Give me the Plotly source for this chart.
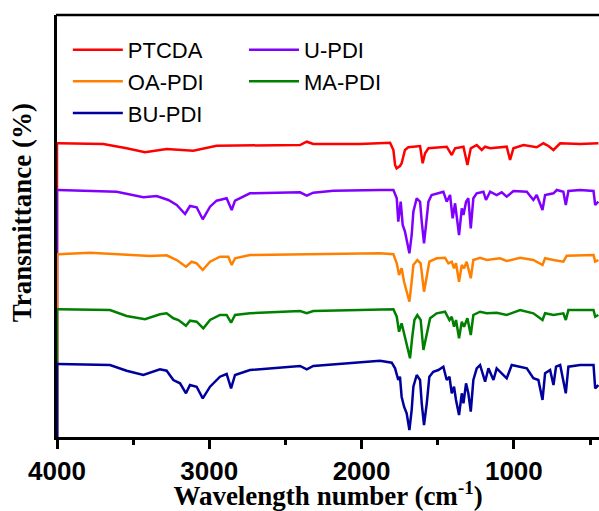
import plotly.graph_objects as go

# ---- data (wavenumber in cm^-1, transmittance in arbitrary stacked units) ----
ptcda_wn = [4000, 4000, 3991, 3696, 3543, 3422, 3280, 3105, 2952, 2404, 2360, 2317, 2010, 1879,
            1813, 1791, 1780, 1770, 1748, 1737, 1715, 1693, 1616, 1599, 1583, 1561, 1507, 1441,
            1408, 1386, 1331, 1305, 1283, 1244, 1211, 1189, 1156, 1102, 1047, 1025, 1003, 937,
            850, 806, 773, 740, 696, 565, 445]
ptcda_t = [0, 293.7, 293.7, 293, 288.7, 284.7, 288, 286.3, 291.3, 292, 295.3, 293, 293, 294.3,
           294.3, 287, 272, 268.7, 271, 273.7, 287, 289.7, 291, 273.7, 283.7, 288.7, 289.7, 290.3,
           282, 288.7, 290.3, 272, 288.7, 292, 287, 290.3, 288.7, 289.7, 290.3, 277, 288.7, 292,
           289.7, 293.7, 291, 287, 293.7, 293, 293.7]

upd_wn = [4000, 4000, 3991, 3608, 3433, 3346, 3269, 3214, 3159, 3127, 3083, 3043, 2995, 2952, 2886,
          2853, 2831, 2733, 2404, 2360, 2317, 2185, 1879,
          1791, 1769, 1759, 1743, 1730, 1715, 1686, 1671, 1660, 1638, 1616, 1605, 1590, 1577, 1561,
          1540, 1496, 1463, 1441, 1419, 1402, 1386, 1360, 1342, 1331, 1314, 1299, 1283, 1266, 1244,
          1200, 1183, 1156, 1113, 1080, 1047, 1003, 915, 872, 850, 812, 795, 740, 718, 675, 659,
          642, 565, 477, 466, 445]
upd_t = [0, 247, 247, 245.3, 239.7, 241, 237, 232, 223, 231, 229.7, 217.7, 230.3, 236.3, 238.7,
         227, 236.3, 243.7, 244.7, 241.3, 244.3, 246.3, 247,
         247, 238.7, 215.3, 235.3, 212, 205.3, 183.7, 202, 225.3, 238.7, 235.3, 215.3, 193.7, 212, 235.3,
         242, 243.7, 245.3, 235.3, 242, 218.7, 233.7, 202, 228.7, 222, 235.3, 238.7, 208.7, 238.7, 243.7,
         245.3, 237, 245.3, 242, 244.7, 240.3, 246, 245.3, 237, 242, 227, 242, 243.7, 247, 245.3, 232,
         246, 247, 246, 232, 235.3]

oa_wn = [4000, 4000, 3991, 3783, 3389, 3280, 3214, 3153, 3116, 3083, 3043, 2995, 2930, 2875, 2853,
         2831, 2733, 1879,
         1791, 1769, 1754, 1737, 1721, 1686, 1671, 1660, 1634, 1612, 1590, 1572, 1555, 1507, 1452,
         1430, 1408, 1393, 1380, 1360, 1342, 1327, 1310, 1283, 1266, 1222, 1178, 1091, 1047, 959,
         872, 812, 795, 740, 675, 653, 477, 466, 445]
oa_t = [0, 182.7, 182.7, 184.3, 181, 181.7, 177, 170.3, 175.3, 173.7, 167, 175.3, 180.3, 180.3, 172,
        178.7, 182, 183.7,
        182.7, 173.7, 162, 168.7, 155.3, 135.3, 155.3, 172, 177, 173.7, 145.3, 162, 175.3, 178.7, 179.3,
        173.7, 175.3, 168.7, 173.7, 155.3, 172, 168.7, 175.3, 158.7, 177, 179.3, 177, 178.7, 176, 179.3,
        177, 172, 178.7, 177, 175.3, 181.3, 182, 175.3, 177]

ma_wn = [4000, 4000, 3991, 3652, 3543, 3422, 3324, 3280, 3236, 3203, 3153, 3127, 3083, 3039, 2995,
         2930, 2886, 2857, 2831, 2733, 2404, 2360, 2317, 1879,
         1791, 1769, 1754, 1737, 1715, 1682, 1667, 1653, 1634, 1612, 1594, 1572, 1550, 1507, 1452,
         1423, 1408, 1393, 1380, 1360, 1342, 1327, 1305, 1283, 1266, 1222, 1178, 1113, 1047, 959,
         872, 812, 795, 740, 675, 659, 642, 477, 466, 445]
ma_t = [0, 127.7, 127.7, 127, 121, 117.7, 122.7, 123.7, 118.7, 117, 111.3, 116.3, 115.3, 108.7, 117,
        122, 122, 114.3, 122, 123.7, 126, 123.7, 126, 128,
        127.7, 120.3, 105.3, 113.7, 98.7, 78.7, 100.3, 117, 122, 117, 87, 103.7, 118.7, 123.7, 125.3,
        117, 120.3, 110.3, 117, 98.7, 115.3, 110.3, 118.7, 102, 122, 125.3, 123.7, 124.3, 122, 127,
        123.7, 117, 123.7, 122, 123.7, 117, 127, 127, 120.3, 122]

bu_wn = [4000, 4000, 3991, 3652, 3543, 3433, 3324, 3280, 3236, 3192, 3153, 3127, 3083, 3043, 2995,
         2930, 2886, 2857, 2831, 2733, 2404, 2360, 2317, 1879,
         1802, 1780, 1759, 1748, 1737, 1721, 1704, 1686, 1671, 1660, 1638, 1616, 1605, 1590, 1572,
         1555, 1529, 1496, 1463, 1441, 1423, 1408, 1393, 1380, 1360, 1342, 1331, 1314, 1299, 1283,
         1266, 1244, 1222, 1189, 1167, 1134, 1113, 1047, 1014, 959, 915, 872, 839, 812, 795, 762,
         740, 723, 696, 659, 642, 565, 477, 466, 445]
bu_t = [0, 73, 73, 72, 66.3, 62, 67.7, 66.3, 57, 53.7, 43.7, 52, 50.3, 38.7, 50.3,
        60.3, 63, 48.7, 62, 67, 71, 67.7, 71, 76.3,
        74.3, 68.7, 57, 60.3, 40.3, 30.3, 23.7, 7, 27, 50.3, 62, 57, 33.7, 12, 33.7,
        60.3, 65.3, 67, 70.3, 57, 60.3, 43.7, 50.3, 37, 22, 43.7, 33.7, 53.7, 43.7, 25.3,
        57, 68.7, 72, 55.3, 68.7, 57, 68.7, 58.7, 72, 70.3, 68.7, 58.7, 57, 37, 63.7, 67,
        52, 70.3, 72, 43.7, 70.3, 72, 72, 48.7, 52]

series = [
    ("PTCDA", ptcda_wn, ptcda_t, "#FF0000", "legend"),
    ("U-PDI", upd_wn, upd_t, "#8000FF", "legend2"),
    ("OA-PDI", oa_wn, oa_t, "#FF8000", "legend"),
    ("MA-PDI", ma_wn, ma_t, "#008000", "legend2"),
    ("BU-PDI", bu_wn, bu_t, "#00009C", "legend"),
]

fig = go.Figure()
for name, wn, t, col, lg in series:
    fig.add_trace(go.Scatter(x=wn, y=t, mode="lines", name=name,
                             line=dict(color=col, width=2.5), legend=lg))

legend_font = dict(family="Liberation Sans, Arial", size=22, color="black")
serif_y = dict(family="Liberation Serif, Times New Roman", size=27, color="black", weight="bold")
serif_x = dict(family="Liberation Serif, Times New Roman", size=27, color="black", weight="bold")
fig.update_layout(
    width=599, height=511,
    margin=dict(l=57, r=0, t=15, b=74),
    paper_bgcolor="white", plot_bgcolor="white",
    showlegend=True,
    legend=dict(x=0.02, y=0.967, xanchor="left", yanchor="top", font=legend_font,
                bgcolor="rgba(0,0,0,0)", tracegroupgap=0, itemwidth=50),
    legend2=dict(x=0.345, y=0.967, xanchor="left", yanchor="top", font=legend_font,
                 bgcolor="rgba(0,0,0,0)", tracegroupgap=0, itemwidth=50),
    xaxis=dict(range=[4000, 441], showgrid=False, zeroline=False, automargin=False,
               showline=True, linecolor="black", linewidth=2.5, mirror=False,
               ticks="outside", ticklen=9, tickwidth=2.5, tickcolor="black",
               tickvals=[4000, 3000, 2000, 1000],
               ticktext=["4000", "3000", "2000", "1000"],
               tickfont=dict(family="Liberation Sans, Arial", size=26, color="black", weight="bold"),
               minor=dict(tickvals=[3500, 2500, 1500, 500], ticks="outside", ticklen=5,
                          tickwidth=2.5, tickcolor="black"),
               title=dict(text="Wavelength number (cm<sup>-1</sup>)", font=serif_x, standoff=16)),
    yaxis=dict(range=[0, 422], showgrid=False, zeroline=False, showticklabels=False,
               automargin=False,
               ticks="", showline=True, linecolor="black", linewidth=2.5, mirror=False),
    annotations=[
        dict(text="Transmittance (%)", xref="paper", yref="paper",
             x=-0.064, y=0.531, xanchor="center", yanchor="middle",
             textangle=-90, showarrow=False, font=serif_y),
    ],
    shapes=[dict(type="line", xref="paper", yref="paper", x0=-0.002, x1=1.0, y0=1, y1=1,
                 line=dict(color="black", width=2.5))],
)

fig.write_html("out.html")
